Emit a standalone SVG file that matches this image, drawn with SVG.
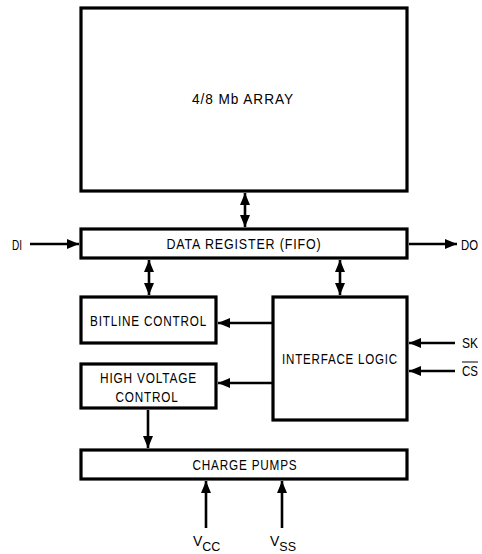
<svg xmlns="http://www.w3.org/2000/svg" width="482" height="554" viewBox="0 0 482 554">
<defs>
<marker id="ah" viewBox="0 0 12 10" refX="12" refY="5" markerWidth="12" markerHeight="10" markerUnits="userSpaceOnUse" orient="auto-start-reverse">
<path d="M0,0 L12,5 L0,10 Z" fill="#000"/>
</marker>
</defs>
<style>
.box{fill:#fff;stroke:#000;stroke-width:3.2}
.lbl{font-family:"Liberation Sans",Arial,sans-serif;font-size:14.5px;letter-spacing:1px;fill:#000;text-anchor:middle}
.pin{font-family:"Liberation Sans",Arial,sans-serif;font-size:14px;fill:#000}
.ln{stroke:#000;stroke-width:2.6;fill:none}
.one{marker-end:url(#ah)}
.two{marker-start:url(#ah);marker-end:url(#ah)}
</style>
<rect width="482" height="554" fill="#fff"/>
<g id="array"><rect class="box" x="81" y="8" width="326" height="183"/><text class="lbl" x="243" y="104" textLength="102" lengthAdjust="spacingAndGlyphs">4/8 Mb ARRAY</text></g>
<g id="dataregister"><rect class="box" x="81" y="229" width="326" height="29"/><text class="lbl" x="244" y="249" textLength="155" lengthAdjust="spacingAndGlyphs">DATA REGISTER (FIFO)</text></g>
<g id="bitline"><rect class="box" x="81" y="297" width="135" height="46"/><text class="lbl" x="148.5" y="326" textLength="117" lengthAdjust="spacingAndGlyphs">BITLINE CONTROL</text></g>
<g id="highvoltage"><rect class="box" x="81" y="364" width="135" height="44"/><text class="lbl" x="148.5" y="383" textLength="97" lengthAdjust="spacingAndGlyphs">HIGH VOLTAGE</text><text class="lbl" x="147" y="402" textLength="63" lengthAdjust="spacingAndGlyphs">CONTROL</text></g>
<g id="interface"><rect class="box" x="273" y="297" width="134" height="123"/><text class="lbl" x="340" y="364" textLength="116" lengthAdjust="spacingAndGlyphs">INTERFACE LOGIC</text></g>
<g id="chargepumps"><rect class="box" x="81" y="450" width="326" height="29"/><text class="lbl" x="245" y="470" textLength="105" lengthAdjust="spacingAndGlyphs">CHARGE PUMPS</text></g>
<g id="pins">
<text class="pin" x="12" y="250" textLength="10" lengthAdjust="spacingAndGlyphs">DI</text>
<text class="pin" x="461" y="250" textLength="17" lengthAdjust="spacingAndGlyphs">DO</text>
<text class="pin" x="462" y="348" textLength="16" lengthAdjust="spacingAndGlyphs">SK</text>
<text class="pin" x="462" y="376" textLength="16" lengthAdjust="spacingAndGlyphs">CS</text>
<line x1="462" y1="362" x2="478" y2="362" stroke="#000" stroke-width="1"/>
<text class="pin" x="193" y="546">V<tspan dy="5" font-size="12.5">CC</tspan></text>
<text class="pin" x="270" y="546">V<tspan dy="5" font-size="12.5">SS</tspan></text>
</g>
<g id="connectors">
<line class="ln two" x1="245" y1="193" x2="245" y2="227"/>
<line class="ln one" x1="30" y1="244" x2="79" y2="244"/>
<line class="ln one" x1="409" y1="244" x2="457" y2="244"/>
<line class="ln two" x1="149" y1="260" x2="149" y2="295"/>
<line class="ln two" x1="340" y1="260" x2="340" y2="295"/>
<line class="ln one" x1="273" y1="323" x2="218" y2="323"/>
<line class="ln one" x1="273" y1="383" x2="218" y2="383"/>
<line class="ln one" x1="455" y1="343" x2="409" y2="343"/>
<line class="ln one" x1="455" y1="371" x2="409" y2="371"/>
<line class="ln one" x1="148" y1="410" x2="148" y2="448"/>
<line class="ln one" x1="206" y1="528" x2="206" y2="481"/>
<line class="ln one" x1="282" y1="528" x2="282" y2="481"/>
</g>
</svg>
